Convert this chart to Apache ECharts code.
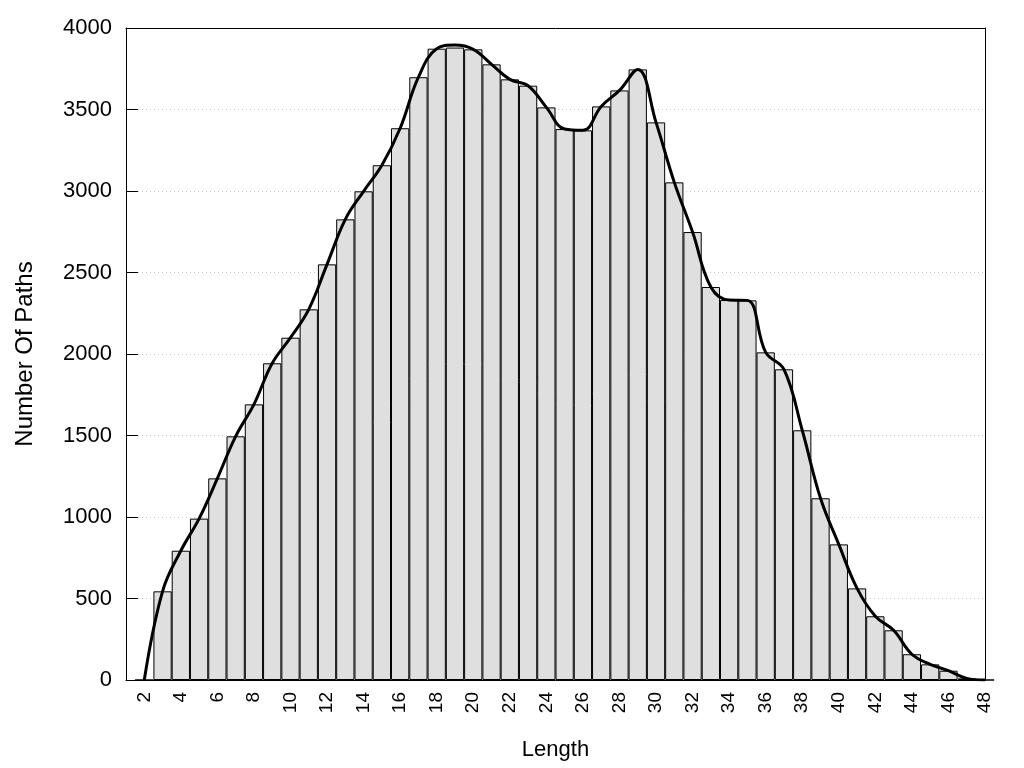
<!DOCTYPE html>
<html>
<head>
<meta charset="utf-8">
<script src="https://cdn.jsdelivr.net/npm/echarts@6/dist/echarts.min.js"></script>
<style>html,body{margin:0;padding:0;background:#fff}#c{width:1024px;height:768px}</style>
</head>
<body>
<div id="c"></div>
<script>
// Path lengths (category positions 1..48)
var lengths = [1,2,3,4,5,6,7,8,9,10,11,12,13,14,15,16,17,18,19,20,21,22,23,24,25,26,27,28,29,30,31,32,33,34,35,36,37,38,39,40,41,42,43,44,45,46,47,48];
// Number of paths for each length (null = no data)
var counts = [null,0,544,793,990,1237,1495,1691,1943,2100,2274,2550,2826,2998,3158,3385,3698,3873,3880,3869,3777,3685,3646,3513,3380,3372,3519,3617,3746,3421,3053,2748,2411,2331,2329,2010,1906,1532,1115,832,562,391,305,158,96,57,10,0];
// Smoothed curve values
var curve = [null,0,544,793,990,1237,1495,1691,1943,2100,2274,2550,2826,2998,3158,3385,3698,3873,3895,3869,3777,3685,3646,3513,3380,3372,3519,3617,3746,3421,3053,2748,2411,2331,2329,2010,1906,1532,1115,832,562,391,305,158,96,57,10,0];
var yTicks = [0,500,1000,1500,2000,2500,3000,3500,4000];

var chart = echarts.init(document.getElementById('c'));
var FONT = 'Liberation Sans';
chart.setOption({
  backgroundColor: '#fff',
  animation: false,
  grid: {left: 126, right: 39, top: 28, bottom: 88, show: false},
  xAxis: [{
    type: 'category',
    data: lengths.map(String),
    boundaryGap: false,
    axisLine: {show: true, lineStyle: {color: '#000', width: 1}},
    axisTick: {show: false},
    axisLabel: {
      interval: function (idx, val) { return Number(val) % 2 === 0; },
      rotate: 90, margin: 12, color: '#000', fontSize: 19, fontFamily: FONT
    },
    splitLine: {show: false},
    name: 'Length', nameLocation: 'middle', nameGap: 59,
    nameTextStyle: {color: '#000', fontSize: 22, fontFamily: FONT}
  }, {
    type: 'category',
    position: 'top',
    data: lengths.map(String),
    boundaryGap: false,
    axisLine: {show: true, onZero: false, lineStyle: {color: '#000', width: 1}},
    axisTick: {show: false},
    axisLabel: {show: false},
    splitLine: {show: false},
    z: 10
  }],
  yAxis: [{
    type: 'value',
    min: yTicks[0], max: yTicks[yTicks.length - 1], interval: 500,
    axisLine: {show: true, lineStyle: {color: '#000', width: 1}},
    axisTick: {show: true, inside: true, length: 12, lineStyle: {color: '#000'}},
    axisLabel: {color: '#000', fontSize: 22, fontFamily: FONT, margin: 14,
      formatter: function (v) { return String(v); }},
    splitLine: {show: true, lineStyle: {color: '#c8c8c8', type: [1, 3], width: 1}},
    name: 'Number Of Paths', nameLocation: 'middle', nameGap: 89, nameRotate: 90,
    nameTextStyle: {color: '#000', fontSize: 24, fontFamily: FONT}
  }, {
    type: 'value',
    position: 'right',
    min: yTicks[0], max: yTicks[yTicks.length - 1], interval: 500,
    axisLine: {show: true, onZero: false, lineStyle: {color: '#000', width: 1}},
    axisTick: {show: false},
    axisLabel: {show: false},
    splitLine: {show: false},
    z: 10
  }],
  series: [
    {
      type: 'bar',
      data: counts,
      barWidth: '100%',
      itemStyle: {color: '#dfdfdf', borderColor: '#000', borderWidth: 1},
      z: 2
    },
    {
      type: 'line',
      data: curve,
      smooth: 0.4,
      showSymbol: false,
      lineStyle: {color: '#000', width: 3},
      z: 3
    }
  ]
});
</script>
</body>
</html>
